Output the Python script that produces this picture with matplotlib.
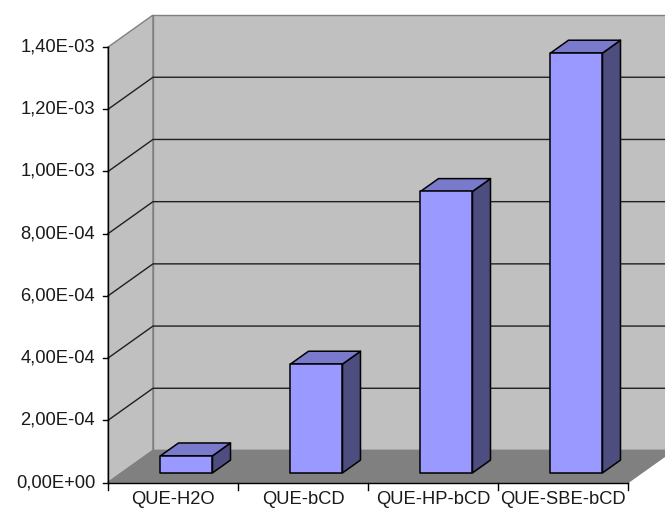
import matplotlib
matplotlib.use("Agg")
import matplotlib.pyplot as plt
from matplotlib.patches import Polygon

plt.rcParams["font.family"] = ["Liberation Sans", "DejaVu Sans"]

categories = ["QUE-H2O", "QUE-bCD", "QUE-HP-bCD", "QUE-SBE-bCD"]
values = [5.5e-5, 3.5e-4, 9.05e-4, 1.35e-3]
yticks = [0, 2e-4, 4e-4, 6e-4, 8e-4, 1e-3, 1.2e-3, 1.4e-3]

# oblique depth of the floor, in data units (x: categories, y: value)
DX, DY = 0.346, 1.03e-4
YMAX = 1.4e-3
BAR_W = 0.4
D0, D1 = 0.3, 0.7          # bar front / back as fraction of floor depth

WALL = "#c0c0c0"
FLOOR = "#808080"
FRONT, TOP, SIDE = "#9999ff", "#7a7acc", "#4d4d80"

fig = plt.figure(figsize=(6.65, 5.11), dpi=100)
ax = fig.add_axes([0, 0, 1, 1])
ax.set_xlim(-0.8308, 4.2846)
ax.set_ylim(-9.16e-5, 1.5514e-3)
ax.axis("off")

n = len(categories)

# walls and floor
ax.add_patch(Polygon([(0, 0), (DX, DY), (DX, YMAX + DY), (0, YMAX)],
                     fc=WALL, ec="#808080", lw=1, zorder=1))
ax.add_patch(Polygon([(DX, DY), (n + DX, DY), (n + DX, YMAX + DY), (DX, YMAX + DY)],
                     fc=WALL, ec="#808080", lw=1, zorder=1))
ax.add_patch(Polygon([(0, 0), (n, 0), (n + DX, DY), (DX, DY)],
                     fc=FLOOR, ec=FLOOR, lw=1, zorder=1))

# gridlines on left and back walls
for t in yticks[1:-1]:
    ax.plot([0, DX, n + DX], [t, t + DY, t + DY], color="#202020", lw=1, zorder=2)

# bars
for i, v in enumerate(values):
    x0 = i + 0.5 - BAR_W / 2 + D0 * DX
    x1 = x0 + BAR_W
    y0 = D0 * DY
    ox, oy = (D1 - D0) * DX, (D1 - D0) * DY
    front = [(x0, y0), (x1, y0), (x1, y0 + v), (x0, y0 + v)]
    top = [(x0, y0 + v), (x1, y0 + v), (x1 + ox, y0 + v + oy), (x0 + ox, y0 + v + oy)]
    side = [(x1, y0), (x1 + ox, y0 + oy), (x1 + ox, y0 + v + oy), (x1, y0 + v)]
    for pts, c in [(side, SIDE), (top, TOP), (front, FRONT)]:
        ax.add_patch(Polygon(pts, fc=c, ec="black", lw=1.1, joinstyle="round", zorder=3))

# value axis
ax.plot([0, 0], [0, YMAX], color="black", lw=1, zorder=4)
for t in yticks:
    ax.plot([-0.04, 0], [t, t], color="black", lw=1, zorder=4)
    ax.text(-0.1, t, f"{t:.2E}".replace(".", ","), ha="right", va="center",
            fontsize=13.2, color="#1a1a1a")

# category axis
ax.plot([0, n], [0, 0], color="black", lw=1, zorder=4)
for i in range(n + 1):
    ax.plot([i, i], [0, -2.4e-5], color="black", lw=1, zorder=4)
for i, c in enumerate(categories):
    ax.text(i + 0.5, -5.5e-5, c, ha="center", va="center",
            fontsize=13.2, color="#1a1a1a")

fig.savefig("out.png", dpi=100)
